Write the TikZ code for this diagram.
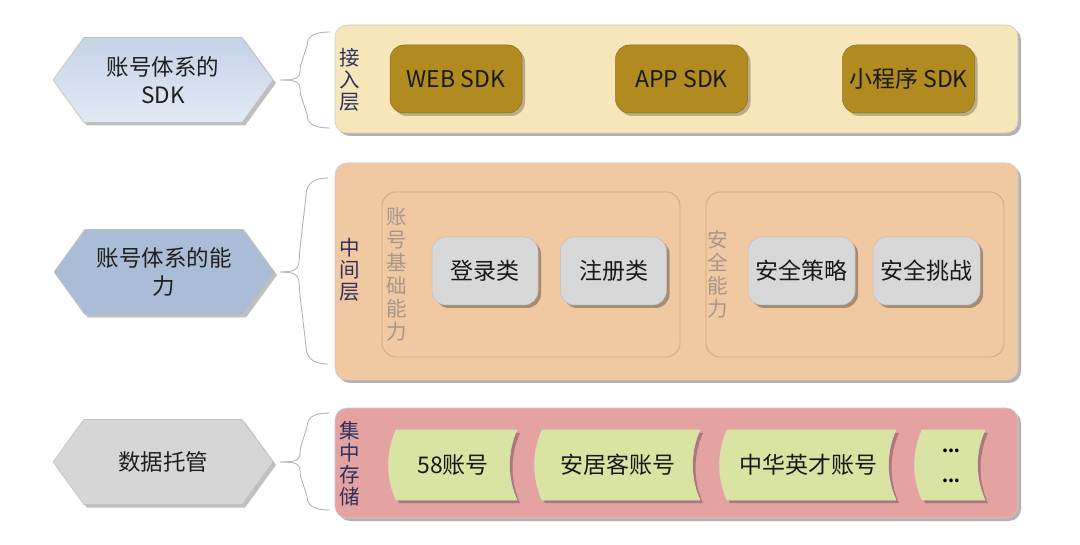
\documentclass[tikz,border=0pt]{standalone}
\usepackage{fontspec}
\setmainfont{Noto Sans CJK SC}
\usetikzlibrary{shapes.symbols,shadows,calc}
\definecolor{hexA}{HTML}{C5D3E8}
\definecolor{hexB}{HTML}{E2E9F4}
\definecolor{hexmid}{HTML}{A9BDD6}
\definecolor{hexgray}{HTML}{D6D6D6}
\definecolor{layerA}{HTML}{F6E6BA}
\definecolor{layerB}{HTML}{F0C8A2}
\definecolor{layerC}{HTML}{E4A2A1}
\definecolor{sdkfill}{HTML}{B18B1F}
\definecolor{grayfill}{HTML}{D8D8D8}
\definecolor{tapefill}{HTML}{D9E4A3}
\definecolor{labelc}{HTML}{30305E}
\definecolor{innerlab}{HTML}{A8968A}
\definecolor{innerline}{HTML}{D6A67F}
\definecolor{bracec}{HTML}{B4B4B4}
\begin{document}
\begin{tikzpicture}[x=1pt,y=-1pt,
  txt/.style={font=\fontsize{23}{28}\selectfont, text=black!90, align=center, inner sep=0pt},
  hexbox/.style={shape=signal, signal to=west and east, signal pointer angle=108,
    minimum width=220pt, minimum height=85pt, draw=black!25, line width=0.6pt,
    inner sep=0pt, font=\fontsize{22.5}{28}\selectfont, text=black!88, align=center,
    drop shadow={shadow xshift=3pt, shadow yshift=-3pt, opacity=0.25, fill=black}},
  layerbox/.style={rounded corners=12pt, draw=black!20, line width=0.6pt,
    minimum width=683pt, inner sep=0pt,
    drop shadow={shadow xshift=3pt, shadow yshift=-3pt, opacity=0.3, fill=black}},
  innerbox/.style={rounded corners=14pt, draw=innerline, line width=0.9pt,
    minimum width=298pt, minimum height=165pt, inner sep=0pt},
  sdkbox/.style={rounded corners=14pt, fill=sdkfill, draw=sdkfill!80!black, line width=0.5pt,
    minimum width=132pt, minimum height=68pt, txt,
    drop shadow={shadow xshift=3pt, shadow yshift=-3pt, opacity=0.25, fill=black}},
  graybox/.style={rounded corners=14pt, fill=grayfill, draw=black!25, line width=0.5pt,
    minimum width=106pt, minimum height=68pt, txt,
    drop shadow={shadow xshift=3pt, shadow yshift=-3pt, opacity=0.3, fill=black}},
  vlabel/.style={font=\fontsize{20.5}{22}\selectfont, text=labelc, align=center, inner sep=0pt},
  ilabel/.style={font=\fontsize{20.5}{23}\selectfont, text=innerlab, align=center, inner sep=0pt},
  tapeshape/.style={fill=tapefill, draw=black!15, line width=0.5pt,
    drop shadow={shadow xshift=3pt, shadow yshift=-3pt, opacity=0.25, fill=black}},
  brace/.style={draw=bracec, line width=0.9pt}
]
\useasboundingbox (0,0) rectangle (1080,545);

% layer boxes
\node[layerbox, fill=layerA, minimum height=108pt] (L1) at (676.5,79) {};
\node[layerbox, fill=layerB, minimum height=217pt] (L2) at (676.5,271.5) {};
\node[layerbox, fill=layerC, minimum height=110pt] (L3) at (676.5,463) {};

% hexagons
\node[hexbox, top color=hexA, bottom color=hexB] (H1) at (163,80) {账号体系的\\SDK};
\node[hexbox, fill=hexmid] (H2) at (164,272) {账号体系的能\\力};
\node[hexbox, fill=hexgray] (H3) at (163,462) {数据托管};

% braces
\coordinate (B1t) at (330,32); \coordinate (B1b) at (330,128);
\coordinate (B2t) at (328,178); \coordinate (B2b) at (328,364);
\coordinate (B3t) at (330,413); \coordinate (B3b) at (330,510);
\draw[brace] ($(H1.east)+(7,0)$) .. controls +(18,0) and +(0,12) .. ($(H1.east)+(27,-14)$)
   -- ($(B1t)+(-23,14)$) .. controls +(0,-12) and +(-12,0) .. (B1t);
\draw[brace] ($(H1.east)+(7,0)$) .. controls +(18,0) and +(0,-12) .. ($(H1.east)+(27,14)$)
   -- ($(B1b)+(-23,-14)$) .. controls +(0,12) and +(-12,0) .. (B1b);
\draw[brace] ($(H2.east)+(6,0)$) .. controls +(18,0) and +(0,14) .. ($(H2.east)+(25,-18)$)
   -- ($(B2t)+(-22,18)$) .. controls +(0,-14) and +(-12,0) .. (B2t);
\draw[brace] ($(H2.east)+(6,0)$) .. controls +(18,0) and +(0,-14) .. ($(H2.east)+(25,18)$)
   -- ($(B2b)+(-22,-18)$) .. controls +(0,14) and +(-12,0) .. (B2b);
\draw[brace] ($(H3.east)+(7,0)$) .. controls +(18,0) and +(0,12) .. ($(H3.east)+(27,-14)$)
   -- ($(B3t)+(-23,14)$) .. controls +(0,-12) and +(-12,0) .. (B3t);
\draw[brace] ($(H3.east)+(7,0)$) .. controls +(18,0) and +(0,-12) .. ($(H3.east)+(27,14)$)
   -- ($(B3b)+(-23,-14)$) .. controls +(0,12) and +(-12,0) .. (B3b);

% layer labels
\node[vlabel] (V1) at (350,80) {接\\入\\层};
\node[vlabel] (V2) at (350,270) {中\\间\\层};
\node[vlabel] (V3) at (350,464) {集\\中\\存\\储};

% access layer
\node[sdkbox] (S1) at (456,79) {WEB SDK};
\node[sdkbox] (S2) at (681.5,79) {APP SDK};
\node[sdkbox] (S3) at (908.5,79) {小程序 SDK};

% middle layer
\node[innerbox] (I1) at (531,274.5) {};
\node[innerbox] (I2) at (855,274.5) {};
\node[ilabel] (IL1) at (397,274.5) {账\\号\\基\\础\\能\\力};
\node[ilabel] (IL2) at (718,274) {安\\全\\能\\力};
\node[graybox] (G1) at (485,271) {登录类};
\node[graybox] (G2) at (613.5,271) {注册类};
\node[graybox, minimum width=107pt] (G3) at (801.5,271) {安全策略};
\node[graybox, minimum width=107pt] (G4) at (926.5,271) {安全挑战};

% storage layer
\newcommand\tapeitem[5]{%
  \path[tapeshape] (#1,430) .. controls +(-10,22) and +(-10,-22) .. (#1,500)
     -- (#2,500) .. controls +(-10,-22) and +(-10,22) .. (#2,430) -- cycle;
  \node[txt] (#3) at (#4,465) {#5};}
\tapeitem{396}{517}{T1}{453}{58账号}
\tapeitem{542}{700}{T2}{618}{安居客账号}
\tapeitem{727}{896}{T3}{808}{中华英才账号}
\tapeitem{922}{985}{T4}{950}{}
\node[font=\fontsize{17}{20}\selectfont\bfseries, inner sep=0pt] (D1) at (951,451) {...};
\node[font=\fontsize{17}{20}\selectfont\bfseries, inner sep=0pt] (D2) at (951,481) {...};
\end{tikzpicture}
\end{document}
